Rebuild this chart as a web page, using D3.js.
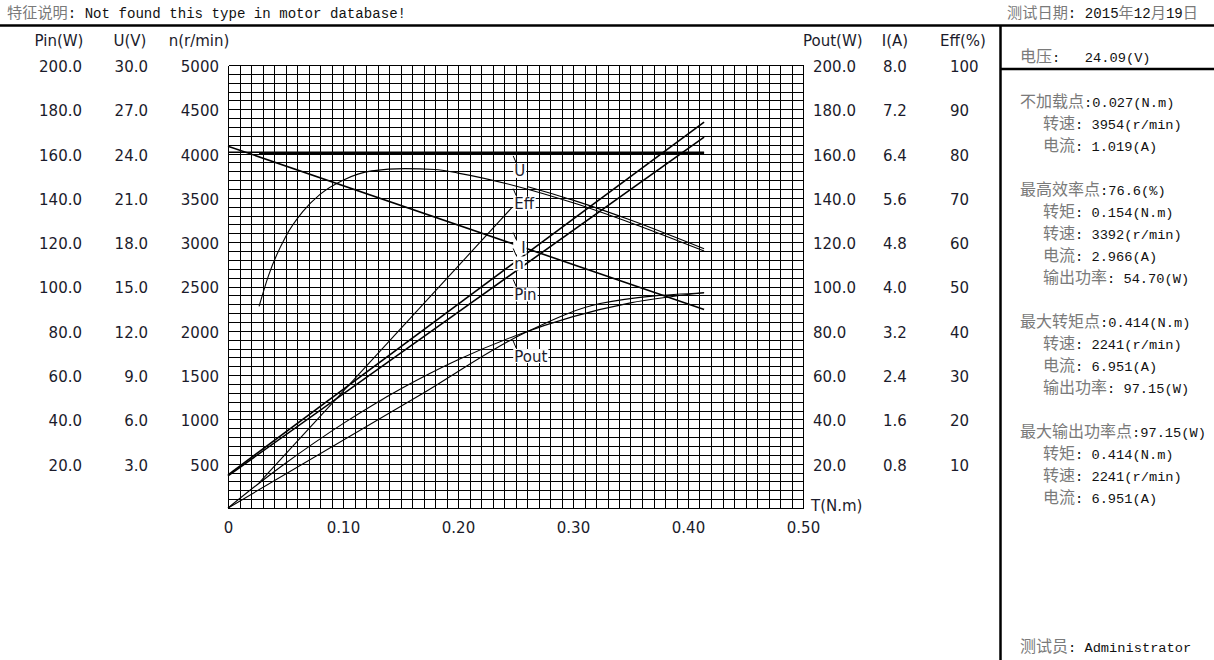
<!DOCTYPE html>
<html><head><meta charset="utf-8">
<script src="https://cdn.jsdelivr.net/npm/d3@7"></script>
<style>
html,body{margin:0;padding:0;background:#fff;}
svg text{white-space:pre;}
</style></head>
<body><svg id="chart" width="1214" height="660"></svg>
<script>
// ---------- data ----------
const torqueTicks = [0, 0.1, 0.2, 0.3, 0.4, 0.5];
const pinTicks  = [20,40,60,80,100,120,140,160,180,200];
const uTicks    = [3,6,9,12,15,18,21,24,27,30];
const nTicks    = [500,1000,1500,2000,2500,3000,3500,4000,4500,5000];
const poutTicks = [20,40,60,80,100,120,140,160,180,200];
const iTicks    = [0.8,1.6,2.4,3.2,4.0,4.8,5.6,6.4,7.2,8.0];
const effTicks  = [10,20,30,40,50,60,70,80,90,100];

// straight characteristic lines
const tLine   = [0, 0.414];
const nLine   = [4084, 2241];      // r/min
const uLine   = [24.09, 24.09];    // V
const iLine   = [0.60, 6.97];      // A
const pinLine = [14.5, 167.4];     // W
const tU2     = [0.027, 0.414];
const uLine2  = [24.0, 24.0];

// output power (curve)
const tPout   = [0, 0.027, 0.05, 0.075, 0.1, 0.125, 0.15, 0.175, 0.2, 0.25, 0.3, 0.35, 0.414];
const poutFit = [0, 11.2, 20.2, 29.4, 38.1, 46.2, 53.7, 60.6, 66.9, 77.8, 86.4, 92.6, 97.15];
// output power (second trace)
const tPout2  = [0, 0.167, 0.26, 0.3235, 0.414];
const pout2   = [0, 51.0, 79.6, 92.3, 97.15];

// efficiency
const tEff    = [0.027, 0.035, 0.05, 0.065, 0.08, 0.1, 0.125, 0.154, 0.18, 0.2, 0.25, 0.3, 0.35, 0.414];
const effFit  = [45.5, 52.3, 61.2, 66.9, 70.8, 74.0, 76.1, 76.6, 76.4, 75.6, 72.7, 68.9, 64.4, 58.0];
const tEff2   = [0.26, 0.3, 0.35, 0.414];
const eff2    = [72.6, 69.5, 65.0, 58.5];

// steep trace (W scale)
const tSteep  = [0.027, 0.247];
const steep   = [11.3, 135.7];

// curve labels (placed at T, value given as percent of full scale for the text centre)
const labelNames = ["U", "Eff", "I", "n", "Pin", "Pout"];
const labelT     = [0.248, 0.248, 0.248, 0.248, 0.248, 0.248];
const labelPct   = [76.1, 68.7, 58.8, 55.2, 48.2, 34.3];
const labelPad   = [1, 1, 8, 1, 1, 1];

const infoLines = [
  ["电压:   24.09(V)", 56.5, 0],
  ["不加载点:0.027(N.m)", 101, 0],
  ["转速: 3954(r/min)", 123, 1],
  ["电流: 1.019(A)", 145, 1],
  ["最高效率点:76.6(%)", 189, 0],
  ["转矩: 0.154(N.m)", 211, 1],
  ["转速: 3392(r/min)", 233, 1],
  ["电流: 2.966(A)", 255, 1],
  ["输出功率: 54.70(W)", 277, 1],
  ["最大转矩点:0.414(N.m)", 321, 0],
  ["转速: 2241(r/min)", 343, 1],
  ["电流: 6.951(A)", 365, 1],
  ["输出功率: 97.15(W)", 387, 1],
  ["最大输出功率点:97.15(W)", 431, 0],
  ["转矩: 0.414(N.m)", 453, 1],
  ["转速: 2241(r/min)", 475, 1],
  ["电流: 6.951(A)", 497, 1],
  ["测试员: Administrator", 646, 0]
];

// ---------- drawing ----------
const svg = d3.select("#chart");
const X0 = 228, X1 = 803, Y0 = 508, Y1 = 65;
const x = d3.scaleLinear().domain([0, 0.5]).range([X0, X1]);
const yPct  = d3.scaleLinear().domain([0, 100]).range([Y0, Y1]);
const yPin  = d3.scaleLinear().domain([0, 200]).range([Y0, Y1]);
const yU    = d3.scaleLinear().domain([0, 30]).range([Y0, Y1]);
const yN    = d3.scaleLinear().domain([0, 5000]).range([Y0, Y1]);
const yPout = d3.scaleLinear().domain([0, 200]).range([Y0, Y1]);
const yI    = d3.scaleLinear().domain([0, 8]).range([Y0, Y1]);
const yEff  = d3.scaleLinear().domain([0, 100]).range([Y0, Y1]);

const AX_FONT = '"DejaVu Sans", Verdana, sans-serif';
const TXT = "#1b1b2b";

// grid
const grid = svg.append("g");
const vT = d3.range(0, 51).map(i => i / 100);
const hP = d3.range(0, 51).map(i => i * 2);
grid.selectAll("line.v").data(vT).join("line")
  .attr("x1", d => Math.round(x(d)) + 0.5).attr("x2", d => Math.round(x(d)) + 0.5)
  .attr("y1", Y1 + 0.5).attr("y2", Y0 + 0.5)
  .attr("stroke", "#000").attr("stroke-width", 1).attr("shape-rendering", "crispEdges");
grid.selectAll("line.h").data(hP).join("line")
  .attr("y1", d => Math.round(yPct(d)) + 0.5).attr("y2", d => Math.round(yPct(d)) + 0.5)
  .attr("x1", X0 + 0.5).attr("x2", X1 + 0.5)
  .attr("stroke", "#000").attr("stroke-width", 1).attr("shape-rendering", "crispEdges");

// axes
function styleAxis(g, anchor) {
  g.select(".domain").remove();
  g.selectAll(".tick line").remove();
  g.selectAll("text").attr("font-family", AX_FONT).attr("font-size", 15)
    .attr("fill", TXT).attr("text-anchor", anchor).attr("dy", "0.36em");
}
const f1 = d3.format(".1f"), f0 = d3.format("d");
svg.append("g").attr("transform", "translate(82,1)")
  .call(d3.axisLeft(yPin).tickValues(pinTicks).tickFormat(f1).tickSize(0).tickPadding(0))
  .call(g => styleAxis(g, "end"));
svg.append("g").attr("transform", "translate(148,1)")
  .call(d3.axisLeft(yU).tickValues(uTicks).tickFormat(f1).tickSize(0).tickPadding(0))
  .call(g => styleAxis(g, "end"));
svg.append("g").attr("transform", "translate(219,1)")
  .call(d3.axisLeft(yN).tickValues(nTicks).tickFormat(f0).tickSize(0).tickPadding(0))
  .call(g => styleAxis(g, "end"));
svg.append("g").attr("transform", "translate(813,1)")
  .call(d3.axisRight(yPout).tickValues(poutTicks).tickFormat(f1).tickSize(0).tickPadding(0))
  .call(g => styleAxis(g, "start"));
svg.append("g").attr("transform", "translate(883,1)")
  .call(d3.axisRight(yI).tickValues(iTicks).tickFormat(f1).tickSize(0).tickPadding(0))
  .call(g => styleAxis(g, "start"));
svg.append("g").attr("transform", "translate(950,1)")
  .call(d3.axisRight(yEff).tickValues(effTicks).tickFormat(f0).tickSize(0).tickPadding(0))
  .call(g => styleAxis(g, "start"));
svg.append("g").attr("transform", `translate(0,${Y0})`)
  .call(d3.axisBottom(x).tickValues(torqueTicks).tickFormat(d => d === 0 ? "0" : d3.format(".2f")(d)).tickSize(0).tickPadding(14))
  .call(g => { g.select(".domain").remove(); g.selectAll("text").attr("font-family", AX_FONT).attr("font-size", 15).attr("fill", TXT); });

// axis titles
const titles = [["Pin(W)", 59, "middle"], ["U(V)", 130, "middle"], ["n(r/min)", 199, "middle"],
                ["Pout(W)", 803, "start"], ["I(A)", 895, "middle"], ["Eff(%)", 963, "middle"]];
svg.append("g").selectAll("text").data(titles).join("text")
  .attr("x", d => d[1]).attr("y", 46).attr("text-anchor", d => d[2])
  .attr("font-family", AX_FONT).attr("font-size", 15).attr("fill", TXT).text(d => d[0]);
svg.append("text").attr("x", 811).attr("y", 511).attr("font-family", AX_FONT)
  .attr("font-size", 15).attr("fill", TXT).text("T(N.m)");

// curves
const curves = svg.append("g").attr("fill", "none").attr("stroke", "#000");
function draw(ts, vs, ys, w) {
  const pts = ts.map((t, i) => [t, vs[i]]);
  curves.append("path").datum(pts)
    .attr("d", d3.line().x(d => x(d[0])).y(d => ys(d[1])).curve(d3.curveMonotoneX))
    .attr("stroke-width", w);
}
draw(tLine, uLine, yU, 1.5);
draw(tU2, uLine2, yU, 2.4);
draw(tLine, nLine, yN, 1.6);
draw(tLine, iLine, yI, 1.6);
draw(tLine, pinLine, yPin, 1.6);
draw(tPout, poutFit, yPout, 1.1);
draw(tPout2, pout2, yPout, 1.1);
draw(tEff, effFit, yEff, 1.1);
draw(tEff2, eff2, yEff, 1.1);
draw(tSteep, steep, yPin, 1.1);

// curve labels
const lab = svg.append("g");
labelNames.forEach((name, i) => {
  const lx = x(labelT[i]), cy = yPct(labelPct[i]);
  const t = lab.append("text").attr("x", lx + labelPad[i]).attr("y", cy + 5.5)
    .attr("font-family", AX_FONT).attr("font-size", 15).attr("fill", TXT).text(name);
  const bb = t.node().getBBox();
  lab.insert("rect", () => t.node()).attr("x", lx).attr("y", cy - 7)
    .attr("width", bb.width + labelPad[i] + 1).attr("height", 14).attr("fill", "#fff");
  lab.append("line").attr("x1", lx).attr("y1", cy - 15).attr("x2", lx + 3).attr("y2", cy - 8)
    .attr("stroke", "#000").attr("stroke-width", 1);
});

// frame lines
svg.append("line").attr("x1", 0).attr("x2", 1214).attr("y1", 25.5).attr("y2", 25.5).attr("stroke", "#000").attr("stroke-width", 2.5);
svg.append("line").attr("x1", 1000.5).attr("x2", 1000.5).attr("y1", 25).attr("y2", 660).attr("stroke", "#000").attr("stroke-width", 2.5);
svg.append("line").attr("x1", 1000).attr("x2", 1214).attr("y1", 69).attr("y2", 69).attr("stroke", "#000").attr("stroke-width", 2.5);

// mixed CJK / ASCII text
function mixed(g, xx, yy, str, anchor, mono, cjkSize) {
  const t = g.append("text").attr("x", xx).attr("y", yy).attr("text-anchor", anchor || "start");
  const re = /[\u3000-\u9fff\uff00-\uffef]+|[^\u3000-\u9fff\uff00-\uffef]+/g;
  (str.match(re) || []).forEach(r => {
    const cjk = /[\u3000-\u9fff\uff00-\uffef]/.test(r);
    t.append("tspan").text(r)
      .attr("font-family", cjk ? '"Noto Sans CJK SC"' : '"Liberation Mono", monospace')
      .attr("font-size", cjk ? (cjkSize || 16) : (mono || 13.7))
      .attr("fill", cjk ? "#7a7a7a" : "#111");
  });
  return t;
}
const info = svg.append("g");
mixed(info, 7, 18, "特征说明: Not found this type in motor database!", "start", 14.1, 15.2);
mixed(info, 1198, 18, "测试日期: 2015年12月19日", "end", 14.1, 15.2);
infoLines.forEach(d => mixed(info, d[2] ? 1043 : 1020, d[1] + 5.5, d[0]));
</script></body></html>
